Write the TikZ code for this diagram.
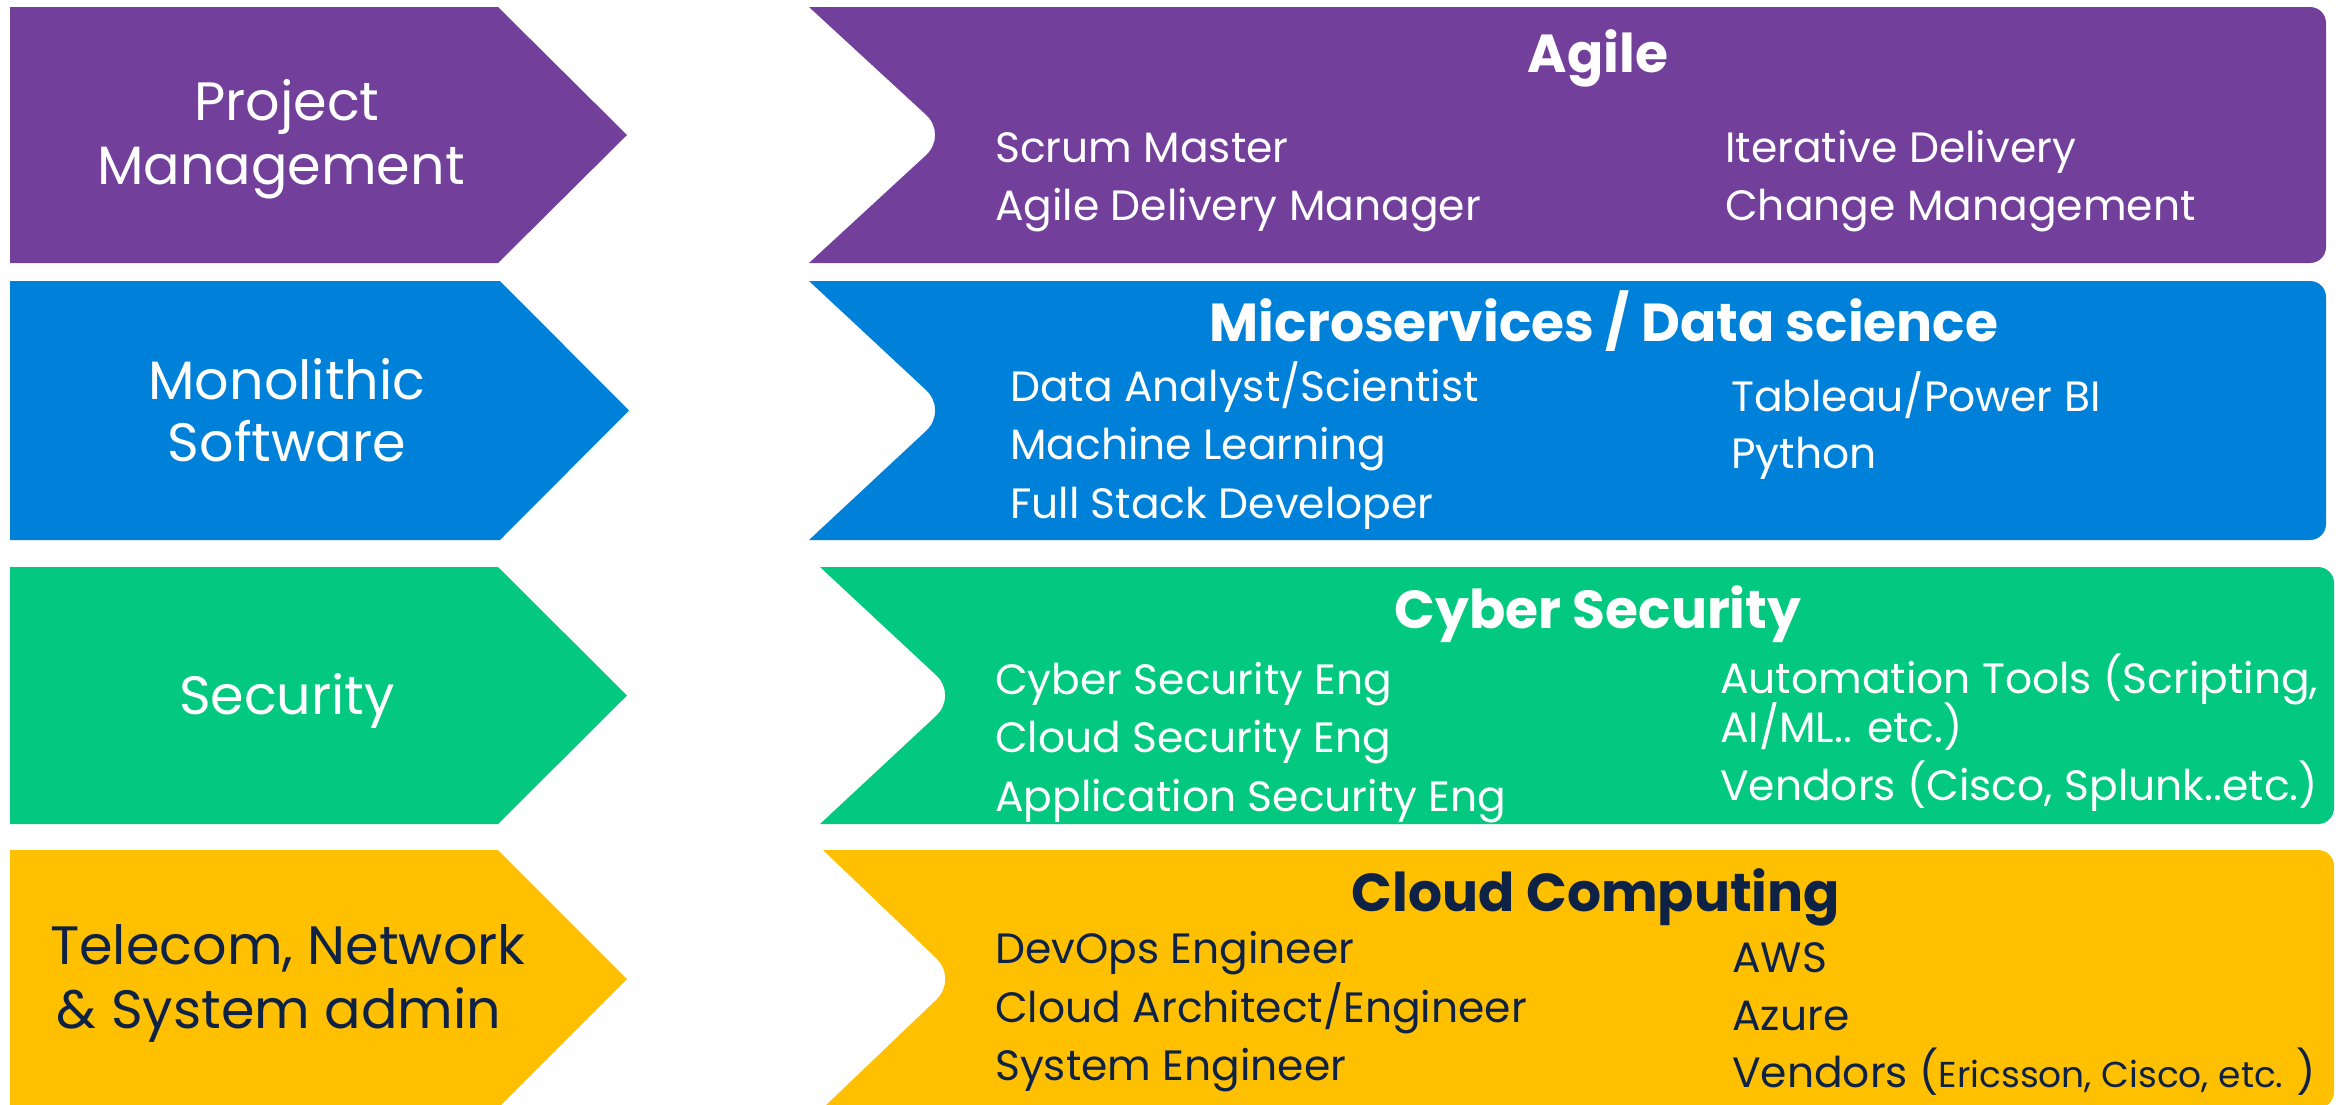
\documentclass[tikz,border=0pt]{standalone}
\usepackage{fontspec}
\setmainfont{Poppins}
\usetikzlibrary{calc}
\definecolor{cpur}{RGB}{114,63,155}
\definecolor{cblu}{RGB}{0,129,217}
\definecolor{cgrn}{RGB}{3,201,128}
\definecolor{cyel}{RGB}{254,192,1}
\definecolor{cnavy}{RGB}{14,34,70}
\newcommand\bandrow[9]{%
  \fill[#1] (10,#2) -- (#5,#2) -- (#6,#3) -- (#5,#4) -- (10,#4) -- cycle;
  \begin{scope}
    \clip[rounded corners=16] (700,#2) rectangle (#9,#4);
    \fill[#1, rounded corners=30] ($(#8,#3)!1.3!(#7,#2)$) -- (#8,#3) -- ($(#8,#3)!1.3!(#7,#4)$) -- (#9+100,#4+60) -- (#9+100,#2-60) -- cycle;
  \end{scope}}
\begin{document}
\begin{tikzpicture}[x=1pt,y=-1pt,
  lbl/.style={font=\fontsize{54}{64}\selectfont, anchor=base, inner sep=0},
  ttl/.style={font=\fontsize{53.5}{60}\selectfont\bfseries, anchor=base, inner sep=0},
  itm/.style={font=\fontsize{42.4}{50}\selectfont, anchor=base west, inner sep=0}]
\useasboundingbox (0,0) rectangle (2346,1104);

\bandrow{cpur}{7}{135}{263}{498}{627}{809}{948}{2326}
\bandrow{cblu}{281}{410.5}{540}{500}{629}{809}{948}{2326}
\bandrow{cgrn}{567}{695.5}{824}{498}{627}{820}{958}{2334}
\bandrow{cyel}{850}{979}{1108}{498}{627}{823}{958}{2334}

% Row 1
\begin{scope}[every node/.append style={text=white}]
\node[lbl] (pm1) at (287,120) {Project};
\node[lbl] (pm2) at (281,184) {Management};
\node[ttl] (agile) at (1598,72) {Agile};
\node[itm] (a1) at (995,162) {Scrum Master};
\node[itm] (a2) at (995,220) {Agile Delivery Manager};
\node[itm] (a3) at (1725,162) {Iterative Delivery};
\node[itm] (a4) at (1725,220) {Change Management};
% Row 2
\node[lbl] (ms1) at (287,399) {Monolithic};
\node[lbl] (ms2) at (287,461) {Software};
\node[ttl] (micro) at (1604,341) {Microservices / Data science};
\node[itm] (m1) at (1010,401) {Data Analyst/Scientist};
\node[itm] (m2) at (1010,459) {Machine Learning};
\node[itm] (m3) at (1010,518) {Full Stack Developer};
\node[itm] (m4) at (1731,411) {Tableau/Power BI};
\node[itm] (m5) at (1731,468) {Python};
% Row 3
\node[lbl] (sec) at (287,714) {Security};
\node[ttl] (cyber) at (1598,628) {Cyber Security};
\node[itm] (c1) at (995,694) {Cyber Security Eng};
\node[itm] (c2) at (995,752) {Cloud Security Eng};
\node[itm] (c3) at (995,811) {Application Security Eng};
\node[itm] (c4) at (1720,693) {Automation Tools (Scripting,};
\node[itm] (c5) at (1720,742) {AI/ML.. etc.)};
\node[itm] (c6) at (1720,800) {Vendors (Cisco, Splunk..etc.)};
\end{scope}
% Row 4
\begin{scope}[every node/.append style={text=cnavy}]
\node[lbl] (tn1) at (288,964) {Telecom, Network};
\node[lbl] (tn2) at (279,1028) {\& System admin};
\node[ttl] (cloud) at (1596,911) {Cloud Computing};
\node[itm] (d1) at (995,963) {DevOps Engineer};
\node[itm] (d2) at (995,1022) {Cloud Architect/Engineer};
\node[itm] (d3) at (995,1080) {System Engineer};
\node[itm] (d4) at (1732,972) {AWS};
\node[itm] (d5) at (1732,1030) {Azure};
\node[itm] (d6) at (1732,1087) {Vendors ({\fontsize{36}{40}\selectfont Ericsson, Cisco, etc. })};
\end{scope}
\end{tikzpicture}
\end{document}
